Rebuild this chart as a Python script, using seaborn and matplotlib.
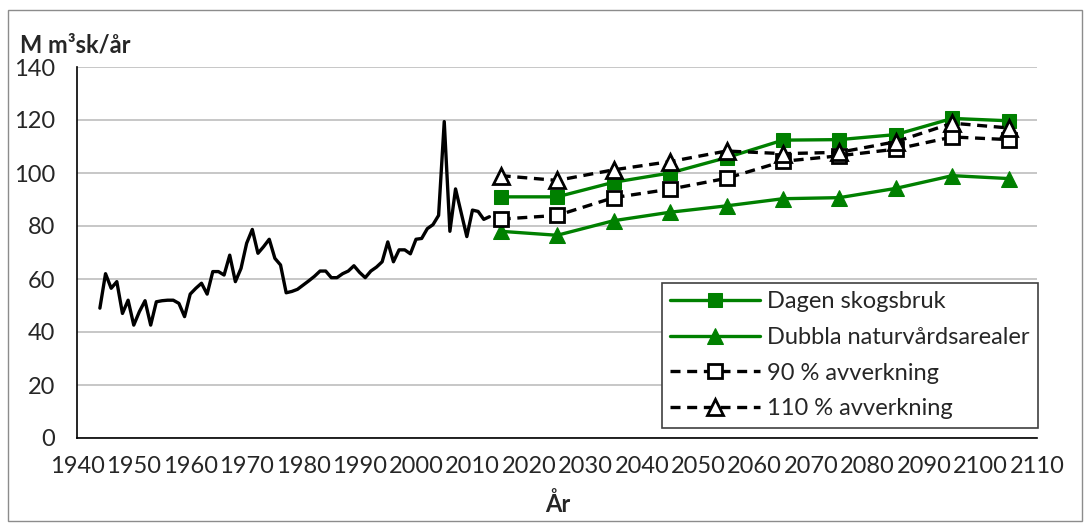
import matplotlib
matplotlib.use("Agg")
import matplotlib.pyplot as plt
import seaborn as sns
from matplotlib.patches import Rectangle

# historical felling (M m3sk/year)
hist_years = list(range(1944, 2014))
hist_values = [
    49, 62, 56.5, 59, 47, 52, 42.6, 47.7, 51.8, 42.6,   # 1944-1953
    51.4, 51.8, 52, 52, 50.8, 45.8, 54.3, 56.5, 58.4, 54.3,   # 1954-1963
    62.8, 62.8, 61.5, 69, 59, 64, 73.5, 78.7, 69.7, 72.2,   # 1964-1973
    75, 67.8, 65.3, 54.8, 55.3, 56.1, 57.7, 59.3, 61, 63,   # 1974-1983
    63, 60.5, 60.5, 62, 63, 65, 62.5, 60.5, 63, 64.5,   # 1984-1993
    66.5, 74, 66.5, 71, 71, 69.5, 75, 75.3, 79, 80.5,   # 1994-2003
    84, 119.4, 78, 94, 85, 76, 86, 85.5, 82.5, 83.5,   # 2004-2013
]

# scenarios
scen_years = [2015, 2025, 2035, 2045, 2055, 2065, 2075, 2085, 2095, 2105]
dagen = [91, 91, 96.5, 100, 105.8, 112.4, 112.6, 114.5, 120.6, 119.7]
dubbla = [78, 76.5, 82, 85.2, 87.6, 90.3, 90.7, 94.2, 99, 97.9]
avv90 = [82.6, 84, 90.7, 93.9, 98, 104.4, 106.5, 109, 113.6, 112.6]
avv110 = [99, 97.2, 101.2, 104.3, 108.3, 107.3, 107.8, 111.8, 118.8, 117]

x_ticks = list(range(1940, 2111, 10))
y_ticks = list(range(0, 141, 20))

sns.set_style("white")
plt.rcParams["font.family"] = ["Lato", "DejaVu Sans"]

fs = 17

fig = plt.figure(figsize=(10.91, 5.27), dpi=100)
ax = fig.add_axes([77.3 / 1091, 1 - 438 / 527, (1037 - 77.3) / 1091, (438 - 67) / 527])

green = "#008000"

sns.lineplot(x=hist_years, y=hist_values, ax=ax, color="black", lw=2.4, legend=False)

sns.lineplot(x=scen_years, y=dagen, ax=ax, color=green, lw=2.4, marker="s",
             markersize=10, markeredgecolor=green, markerfacecolor=green,
             label="Dagen skogsbruk")
sns.lineplot(x=scen_years, y=dubbla, ax=ax, color=green, lw=2.4, marker="^",
             markersize=11, markeredgecolor=green, markerfacecolor=green,
             label="Dubbla naturvårdsarealer")
sns.lineplot(x=scen_years, y=avv90, ax=ax, color="black", lw=2.4, marker="s",
             linestyle=(0, (3, 2)), markersize=10, markeredgecolor="black",
             markerfacecolor="white", markeredgewidth=2,
             label="90 % avverkning")
sns.lineplot(x=scen_years, y=avv110, ax=ax, color="black", lw=2.4, marker="^",
             linestyle=(0, (3, 2)), markersize=11, markeredgecolor="black",
             markerfacecolor="white", markeredgewidth=2,
             label="110 % avverkning")

ax.set_xlim(1940, 2110)
ax.set_ylim(0, 140)
ax.set_xticks(x_ticks)
ax.set_yticks(y_ticks)
ax.tick_params(axis="both", labelsize=fs, direction="out", length=5, width=1.2,
               color="black")
ax.tick_params(axis="x", pad=8)
ax.tick_params(axis="y", pad=11)
ax.yaxis.grid(True, color="#bdbdbd", lw=1.2)
ax.set_axisbelow(True)
for side in ["top", "right"]:
    ax.spines[side].set_visible(False)
for side in ["left", "bottom"]:
    ax.spines[side].set_color("black")
    ax.spines[side].set_linewidth(1.2)
ax.set_xlabel("")
ax.set_ylabel("")

leg = ax.legend(loc="lower left", bbox_to_anchor=(0.609, 0.028), borderaxespad=0,
                fontsize=fs, handlelength=3.8, frameon=True, fancybox=False,
                edgecolor="#404040", framealpha=1, labelspacing=0.62,
                borderpad=0.35, handletextpad=0.3)
leg.get_frame().set_linewidth(1.2)

fig.text(20 / 1091, 1 - 45 / 527, "M m³sk/år", fontsize=fs, fontweight="bold",
         ha="left", va="center")
fig.text(558 / 1091, 1 - 504 / 527, "År", fontsize=fs, fontweight="bold",
         ha="center", va="center")

fig.patches.append(Rectangle((8 / 1091, 6 / 527), 1074 / 1091, 511 / 527,
                             transform=fig.transFigure, fill=False,
                             edgecolor="#8c8c8c", lw=1))

plt.savefig("out.png", dpi=100)
